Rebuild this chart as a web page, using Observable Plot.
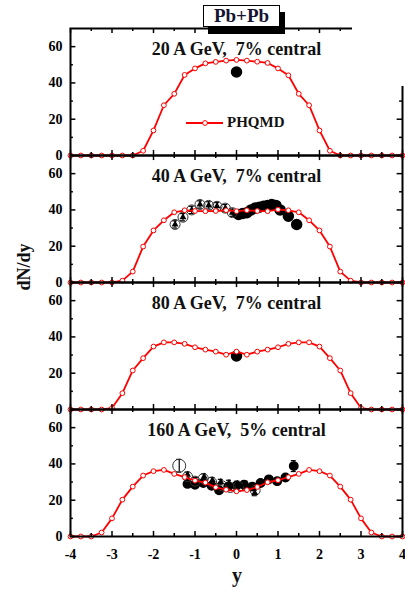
<!DOCTYPE html>
<html><head><meta charset="utf-8">
<script src="https://cdn.jsdelivr.net/npm/d3@7"></script>
<script src="https://cdn.jsdelivr.net/npm/@observablehq/plot@0.6"></script>
<style>
body{margin:0;background:#fff;}
#wrap{position:relative;width:405px;height:592px;overflow:hidden;font-family:"Liberation Serif","Times New Roman",serif;font-weight:bold;}
.ov{position:absolute;white-space:nowrap;}
</style></head><body><div id="wrap"></div>
<script>
// ---- data ----
const panels = ["20", "40", "80", "160"];
const titles = ["20 A GeV,\u00a0 7% central", "40 A GeV,\u00a0 7% central", "80 A GeV,\u00a0 7% central", "160 A GeV,\u00a0 5% central"];
const rapidity = [-4,-3.75,-3.5,-3.25,-3,-2.75,-2.5,-2.25,-2,-1.75,-1.5,-1.25,-1,-0.75,-0.5,-0.25,0,0.25,0.5,0.75,1,1.25,1.5,1.75,2,2.25,2.5,2.75,3,3.25,3.5,3.75,4];
const phqmd20  = [0,0,0,0,0,0,0,2.6,13.8,27.7,34,44.4,48,50.8,51.6,52.3,52.7,52.3,51.7,51,48,44.2,34,27.7,13.8,2.6,0,0,0,0,0,0,0];
const phqmd40  = [0,0,0,0,0,1,6,19.8,28.7,34.3,38.7,39.8,39.4,39.3,39.4,39.8,39.3,39.8,39.4,39.3,40.2,39.8,38.7,34.3,28.7,19.8,6,1,0,0,0,0,0];
const phqmd80  = [0,0,0,0,0.8,9,21.5,28.3,34.7,37,37,36.2,34.3,33,31.9,30.2,31.9,30.2,31.9,33,34.3,36.2,37,37,34.7,28.3,21.5,9,0.8,0,0,0,0];
const phqmd160 = [0,0,0,2.2,10,20.3,27.5,33.6,36,36.7,34.5,32.7,30.8,29.7,27.1,25.8,24.9,25.6,27.3,29.9,31,32.7,34.5,36.7,36,33.6,27.5,20.3,10,2.2,0,0,0];

// experimental data (filled = measured, open = reflected, triangles = other set)
const filled20X = [0];
const filled20Y = [46];
const filled40X = [0.05,0.15,0.25,0.35,0.45,0.55,0.65,0.75,0.85,0.95,1.05,1.25,1.45];
const filled40Y = [37.5,38,38.5,40,41,41.5,42,42.5,43,42.5,40,36.5,32];
const open40X = [-1.48,-1.29,-1.08,-0.88,-0.67,-0.47,-0.27,-0.1];
const open40Y = [32,36,40,43,42.5,42,41,38.5];
const tri40Y  = [32,36,40,43,42.5,42,41,38.5];
const tri40E  = [2,2,2,2,2,2,2,2];
const filled80X = [0];
const filled80Y = [29.5];
const filled80E = [2];
const wide160X = [-1.38];
const wide160Y = [39];
const wide160E = [3.5];
const open160X = [-1.18,-1.0,-0.8,-0.6,-0.35,-0.15,0.05,0.45];
const open160Y = [33,30.5,32,30,28,27,27.5,25.5];
const filled160X = [-1.18,-1.0,-0.8,-0.6,-0.42,-0.2,0.0,0.18,0.38,0.58,0.78,0.98,1.18,1.38];
const filled160Y = [29,28.5,29.5,28,25.5,27.5,28,28.5,27.5,29.5,31.5,30.5,32.5,38.8];
const filled160E = [1.5,1.5,1.5,1.5,1.5,1.5,1.5,1.5,1.5,1.5,1.5,1.5,1.5,3];
const tri160X = [-1.18,-0.98,-0.78,-0.58,-0.38,-0.18,0.02,0.22,0.44];
const tri160Y = [34,31,33,31,30,29.5,29,29,24];
const tri160E = [1.5,1.5,1.5,1.5,1.5,1.5,1.5,1.5,1.5];

const xMajor = [-4,-3,-2,-1,0,1,2,3,4];
const xMinor = [-3.5,-2.5,-1.5,-0.5,0.5,1.5,2.5,3.5];
const yMajor = [0,20,40,60];
const yMinor = [10,30,50];
const yDomain = [0,70];
const xDomain = [-4,4];

// ---- tables ----
const model = [];
[phqmd20, phqmd40, phqmd80, phqmd160].forEach((arr, i) =>
  arr.forEach((v, j) => model.push({panel: panels[i], x: rapidity[j], v})));
const rows = (panel, xs, ys, es) => xs.map((x, i) => ({panel, x, v: ys[i], e: es ? es[i] : 0}));
const filledBig = [
  ...rows("20", filled20X, filled20Y),
  ...rows("40", filled40X, filled40Y),
  ...rows("80", filled80X, filled80Y, filled80E)
];
const filledSmall = rows("160", filled160X, filled160Y, filled160E);
const open = [...rows("40", open40X, open40Y), ...rows("160", open160X, open160Y)];
const wide = rows("160", wide160X, wide160Y, wide160E);
const tris = [...rows("40", open40X, tri40Y, tri40E), ...rows("160", tri160X, tri160Y, tri160E)];
const errs = [...filledBig, ...filledSmall, ...open, ...wide, ...tris].filter(d => d.e > 0);
const titleRows = panels.map((p, i) => ({panel: p, title: titles[i]}));

const RED = "#ff0000";
const chart = Plot.plot({
  width: 405, height: 592,
  marginTop: 27, marginBottom: 55, marginLeft: 70, marginRight: 3,
  x: {domain: xDomain},
  y: {domain: yDomain},
  fy: {domain: panels, padding: 0, axis: null},
  style: {fontFamily: '"Liberation Serif","Times New Roman",serif', fontWeight: "bold", background: "white", color: "black"},
  marks: [
    // error bars
    Plot.ruleX(errs, {x: "x", y1: d => d.v - d.e, y2: d => d.v + d.e, fy: "panel", stroke: "black", strokeWidth: 1.2}),
    Plot.ruleY(errs, {y: d => d.v + d.e, x1: d => d.x - 0.06, x2: d => d.x + 0.06, fy: "panel", stroke: "black", strokeWidth: 1.2}),
    Plot.ruleY(errs, {y: d => d.v - d.e, x1: d => d.x - 0.06, x2: d => d.x + 0.06, fy: "panel", stroke: "black", strokeWidth: 1.2}),
    Plot.dot(filledBig, {x: "x", y: "v", fy: "panel", r: 5, fill: "black", stroke: "black"}),
    Plot.dot(filledSmall, {x: "x", y: "v", fy: "panel", r: 4.2, fill: "black", stroke: "black"}),
    Plot.dot(open, {x: "x", y: "v", fy: "panel", r: 5, fill: "none", stroke: "#333", strokeWidth: 1}),
    Plot.dot(wide, {x: "x", y: "v", fy: "panel", r: 6.5, fill: "none", stroke: "#333", strokeWidth: 1}),
    Plot.dot(tris, {x: "x", y: "v", fy: "panel", r: 2.6, symbol: "triangle", fill: "black"}),
    // model
    Plot.line(model, {x: "x", y: "v", fy: "panel", stroke: RED, strokeWidth: 1.8}),
    Plot.dot(model, {x: "x", y: "v", fy: "panel", r: 2.4, stroke: RED, fill: "white", strokeWidth: 1}),
    // titles
    Plot.text(titleRows, {fy: "panel", text: "title", frameAnchor: "top", dy: 26, lineAnchor: "bottom", fontSize: 18, fontWeight: "bold", fill: "#111"}),
    // inward ticks
    Plot.ruleX(xMajor, {y1: 0, y2: 2.8, stroke: "black", strokeWidth: 1.5}),
    Plot.ruleX(xMinor, {y1: 0, y2: 1.7, stroke: "black", strokeWidth: 1.5}),
    Plot.ruleX(xMajor, {y1: 70, y2: 67.2, stroke: "black", strokeWidth: 1.5}),
    Plot.ruleX(xMinor, {y1: 70, y2: 68.3, stroke: "black", strokeWidth: 1.5}),
    Plot.ruleY(yMajor, {x1: -4, x2: -3.87, stroke: "black", strokeWidth: 1.5}),
    Plot.ruleY(yMinor, {x1: -4, x2: -3.93, stroke: "black", strokeWidth: 1.5}),
    Plot.ruleY(yMajor, {x1: 4, x2: 3.87, stroke: "black", strokeWidth: 1.5}),
    Plot.ruleY(yMinor, {x1: 4, x2: 3.93, stroke: "black", strokeWidth: 1.5}),
    Plot.frame({stroke: "black", strokeWidth: 2}),
    Plot.axisY({ticks: yMajor, tickSize: 0, tickPadding: 8, label: null, fontSize: 14, fontWeight: "bold", tickFormat: d => String(d)}),
    Plot.axisX({ticks: xMajor, tickSize: 0, tickPadding: 13, label: null, fontSize: 14, fontWeight: "bold", tickFormat: d => String(d)})
  ]
});
const wrap = document.getElementById("wrap");
wrap.appendChild(chart);

// overlays: header box, legend, axis titles
function ov(html, css) { const d = document.createElement("div"); d.className = "ov"; d.innerHTML = html; Object.assign(d.style, css); wrap.appendChild(d); return d; }
ov("", {left: "352px", top: "0px", width: "53px", height: "86px", background: "white"});
ov("Pb+Pb", {left: "203px", top: "5px", width: "77px", height: "22px", boxSizing: "border-box", border: "1px solid #000", background: "#fff", boxShadow: "5px 7px 0 #000", textAlign: "center", fontSize: "19px", lineHeight: "20px", color: "#141432"});
ov(`<svg width="40" height="10"><line x1="0" x2="37" y1="5" y2="5" stroke="${RED}" stroke-width="2"/><circle cx="19" cy="5" r="2.4" fill="white" stroke="${RED}"/></svg>`, {left: "186px", top: "118px", width: "40px", height: "10px", lineHeight: "0"});
ov("PHQMD", {left: "227px", top: "113px", fontSize: "15px", lineHeight: "18px", color: "#111"});
ov("dN/dy", {left: "24px", top: "267px", fontSize: "18px", lineHeight: "18px", transform: "translate(-50%,-50%) rotate(-90deg)", color: "#111"});
ov("y", {left: "237px", top: "575px", fontSize: "20px", lineHeight: "20px", transform: "translate(-50%,-50%)", color: "#111"});
</script>
</body></html>
